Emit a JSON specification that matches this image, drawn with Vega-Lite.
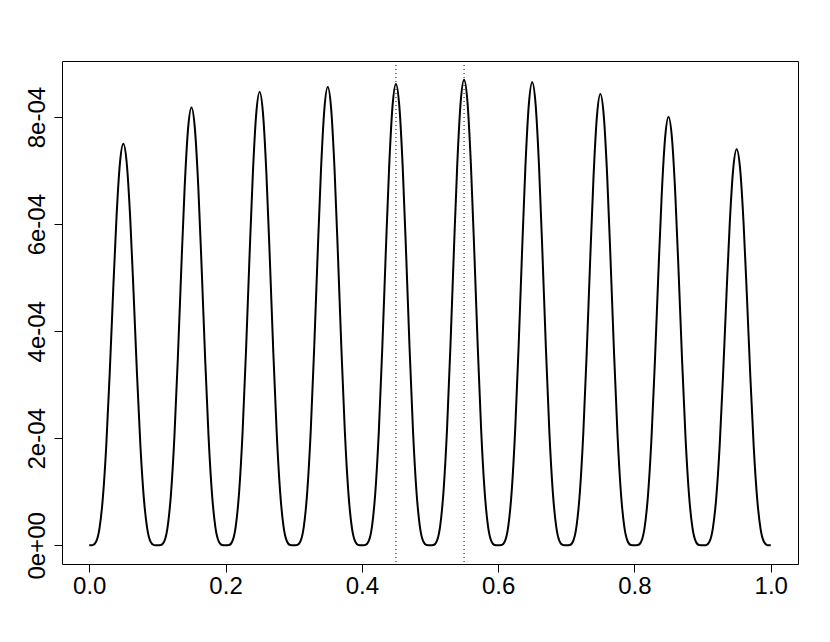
{
  "$schema": "https://vega.github.io/schema/vega-lite/v6.json",
  "width": 736,
  "height": 503,
  "autosize": {"type": "none"},
  "padding": {"left": 62, "top": 61, "right": 32, "bottom": 78},
  "background": "white",
  "config": {
    "view": {"stroke": "black", "strokeWidth": 1},
    "font": "Liberation Sans",
    "axis": {
      "grid": false,
      "domain": false,
      "tickColor": "black",
      "tickWidth": 1,
      "tickSize": 8,
      "labelColor": "black",
      "labelFont": "Liberation Sans",
      "labelFontSize": 24,
      "labelOverlap": false,
      "labelFlush": false,
      "labelBound": false,
      "title": null
    }
  },
  "layer": [
    {
      "data": {"values": [
        {"x":0.000,"y":0},{"x":0.005,"y":0.0045e-4},{"x":0.010,"y":0.0684e-4},{"x":0.015,"y":0.3186e-4},{"x":0.020,"y":0.8955e-4},{"x":0.025,"y":1.875e-4},{"x":0.030,"y":3.213e-4},{"x":0.035,"y":4.727e-4},{"x":0.040,"y":6.136e-4},{"x":0.045,"y":7.138e-4},{"x":0.050,"y":7.50e-4},{"x":0.055,"y":7.138e-4},{"x":0.060,"y":6.136e-4},{"x":0.065,"y":4.727e-4},{"x":0.070,"y":3.213e-4},{"x":0.075,"y":1.875e-4},{"x":0.080,"y":0.8955e-4},{"x":0.085,"y":0.3186e-4},{"x":0.090,"y":0.0684e-4},{"x":0.095,"y":0.0045e-4},
        {"x":0.100,"y":0},{"x":0.105,"y":0.0049e-4},{"x":0.110,"y":0.0746e-4},{"x":0.115,"y":0.3475e-4},{"x":0.120,"y":0.9767e-4},{"x":0.125,"y":2.045e-4},{"x":0.130,"y":3.504e-4},{"x":0.135,"y":5.156e-4},{"x":0.140,"y":6.692e-4},{"x":0.145,"y":7.785e-4},{"x":0.150,"y":8.18e-4},{"x":0.155,"y":7.785e-4},{"x":0.160,"y":6.692e-4},{"x":0.165,"y":5.156e-4},{"x":0.170,"y":3.504e-4},{"x":0.175,"y":2.045e-4},{"x":0.180,"y":0.9767e-4},{"x":0.185,"y":0.3475e-4},{"x":0.190,"y":0.0746e-4},{"x":0.195,"y":0.0049e-4},
        {"x":0.200,"y":0},{"x":0.205,"y":0.0051e-4},{"x":0.210,"y":0.0772e-4},{"x":0.215,"y":0.3598e-4},{"x":0.220,"y":1.0113e-4},{"x":0.225,"y":2.1175e-4},{"x":0.230,"y":3.629e-4},{"x":0.235,"y":5.339e-4},{"x":0.240,"y":6.929e-4},{"x":0.245,"y":8.061e-4},{"x":0.250,"y":8.47e-4},{"x":0.255,"y":8.061e-4},{"x":0.260,"y":6.929e-4},{"x":0.265,"y":5.339e-4},{"x":0.270,"y":3.629e-4},{"x":0.275,"y":2.1175e-4},{"x":0.280,"y":1.0113e-4},{"x":0.285,"y":0.3598e-4},{"x":0.290,"y":0.0772e-4},{"x":0.295,"y":0.0051e-4},
        {"x":0.300,"y":0},{"x":0.305,"y":0.0051e-4},{"x":0.310,"y":0.0781e-4},{"x":0.315,"y":0.3636e-4},{"x":0.320,"y":1.0221e-4},{"x":0.325,"y":2.14e-4},{"x":0.330,"y":3.667e-4},{"x":0.335,"y":5.395e-4},{"x":0.340,"y":7.003e-4},{"x":0.345,"y":8.147e-4},{"x":0.350,"y":8.56e-4},{"x":0.355,"y":8.147e-4},{"x":0.360,"y":7.003e-4},{"x":0.365,"y":5.395e-4},{"x":0.370,"y":3.667e-4},{"x":0.375,"y":2.14e-4},{"x":0.380,"y":1.0221e-4},{"x":0.385,"y":0.3636e-4},{"x":0.390,"y":0.0781e-4},{"x":0.395,"y":0.0051e-4},
        {"x":0.400,"y":0},{"x":0.405,"y":0.0052e-4},{"x":0.410,"y":0.0786e-4},{"x":0.415,"y":0.3662e-4},{"x":0.420,"y":1.0292e-4},{"x":0.425,"y":2.155e-4},{"x":0.430,"y":3.693e-4},{"x":0.435,"y":5.433e-4},{"x":0.440,"y":7.052e-4},{"x":0.445,"y":8.204e-4},{"x":0.450,"y":8.62e-4},{"x":0.455,"y":8.204e-4},{"x":0.460,"y":7.052e-4},{"x":0.465,"y":5.433e-4},{"x":0.470,"y":3.693e-4},{"x":0.475,"y":2.155e-4},{"x":0.480,"y":1.0292e-4},{"x":0.485,"y":0.3662e-4},{"x":0.490,"y":0.0786e-4},{"x":0.495,"y":0.0052e-4},
        {"x":0.500,"y":0},{"x":0.505,"y":0.0052e-4},{"x":0.510,"y":0.0793e-4},{"x":0.515,"y":0.3696e-4},{"x":0.520,"y":1.0388e-4},{"x":0.525,"y":2.175e-4},{"x":0.530,"y":3.727e-4},{"x":0.535,"y":5.484e-4},{"x":0.540,"y":7.117e-4},{"x":0.545,"y":8.280e-4},{"x":0.550,"y":8.70e-4},{"x":0.555,"y":8.280e-4},{"x":0.560,"y":7.117e-4},{"x":0.565,"y":5.484e-4},{"x":0.570,"y":3.727e-4},{"x":0.575,"y":2.175e-4},{"x":0.580,"y":1.0388e-4},{"x":0.585,"y":0.3696e-4},{"x":0.590,"y":0.0793e-4},{"x":0.595,"y":0.0052e-4},
        {"x":0.600,"y":0},{"x":0.605,"y":0.0052e-4},{"x":0.610,"y":0.0789e-4},{"x":0.615,"y":0.3675e-4},{"x":0.620,"y":1.0328e-4},{"x":0.625,"y":2.1625e-4},{"x":0.630,"y":3.706e-4},{"x":0.635,"y":5.452e-4},{"x":0.640,"y":7.077e-4},{"x":0.645,"y":8.232e-4},{"x":0.650,"y":8.65e-4},{"x":0.655,"y":8.232e-4},{"x":0.660,"y":7.077e-4},{"x":0.665,"y":5.452e-4},{"x":0.670,"y":3.706e-4},{"x":0.675,"y":2.1625e-4},{"x":0.680,"y":1.0328e-4},{"x":0.685,"y":0.3675e-4},{"x":0.690,"y":0.0789e-4},{"x":0.695,"y":0.0052e-4},
        {"x":0.700,"y":0},{"x":0.705,"y":0.0050e-4},{"x":0.710,"y":0.0769e-4},{"x":0.715,"y":0.3581e-4},{"x":0.720,"y":1.0065e-4},{"x":0.725,"y":2.1075e-4},{"x":0.730,"y":3.611e-4},{"x":0.735,"y":5.313e-4},{"x":0.740,"y":6.897e-4},{"x":0.745,"y":8.023e-4},{"x":0.750,"y":8.43e-4},{"x":0.755,"y":8.023e-4},{"x":0.760,"y":6.897e-4},{"x":0.765,"y":5.313e-4},{"x":0.770,"y":3.611e-4},{"x":0.775,"y":2.1075e-4},{"x":0.780,"y":1.0065e-4},{"x":0.785,"y":0.3581e-4},{"x":0.790,"y":0.0769e-4},{"x":0.795,"y":0.0050e-4},
        {"x":0.800,"y":0},{"x":0.805,"y":0.0048e-4},{"x":0.810,"y":0.0730e-4},{"x":0.815,"y":0.3398e-4},{"x":0.820,"y":0.9552e-4},{"x":0.825,"y":2.00e-4},{"x":0.830,"y":3.427e-4},{"x":0.835,"y":5.042e-4},{"x":0.840,"y":6.545e-4},{"x":0.845,"y":7.614e-4},{"x":0.850,"y":8.00e-4},{"x":0.855,"y":7.614e-4},{"x":0.860,"y":6.545e-4},{"x":0.865,"y":5.042e-4},{"x":0.870,"y":3.427e-4},{"x":0.875,"y":2.00e-4},{"x":0.880,"y":0.9552e-4},{"x":0.885,"y":0.3398e-4},{"x":0.890,"y":0.0730e-4},{"x":0.895,"y":0.0048e-4},
        {"x":0.900,"y":0},{"x":0.905,"y":0.0044e-4},{"x":0.910,"y":0.0675e-4},{"x":0.915,"y":0.3144e-4},{"x":0.920,"y":0.8836e-4},{"x":0.925,"y":1.85e-4},{"x":0.930,"y":3.170e-4},{"x":0.935,"y":4.664e-4},{"x":0.940,"y":6.054e-4},{"x":0.945,"y":7.043e-4},{"x":0.950,"y":7.40e-4},{"x":0.955,"y":7.043e-4},{"x":0.960,"y":6.054e-4},{"x":0.965,"y":4.664e-4},{"x":0.970,"y":3.170e-4},{"x":0.975,"y":1.85e-4},{"x":0.980,"y":0.8836e-4},{"x":0.985,"y":0.3144e-4},{"x":0.990,"y":0.0675e-4},{"x":0.995,"y":0.0044e-4},
        {"x":1.000,"y":0}
      ]},
      "mark": {"type": "line", "color": "black", "strokeWidth": 2, "interpolate": "monotone"},
      "encoding": {
        "x": {
          "field": "x", "type": "quantitative",
          "scale": {"domain": [-0.04, 1.04], "nice": false, "zero": false},
          "axis": {"values": [0, 0.2, 0.4, 0.6, 0.8, 1.0], "format": ".1f", "labelPadding": 21, "labelBaseline": "alphabetic", "labelAlign": "center"}
        },
        "y": {
          "field": "y", "type": "quantitative",
          "scale": {"domain": [-0.348e-4, 9.048e-4], "nice": false, "zero": false},
          "axis": {
            "values": [0, 0.0002, 0.0004, 0.0006, 0.0008],
            "labelExpr": "datum.value == 0 ? '0e+00' : format(datum.value * 10000, 'd') + 'e-04'",
            "labelAngle": -90,
            "labelAlign": "center",
            "labelBaseline": "alphabetic",
            "labelPadding": 10
          }
        }
      }
    },
    {
      "data": {"values": [{"x": 0.45}, {"x": 0.55}]},
      "mark": {"type": "rule", "color": "black", "strokeWidth": 1, "strokeDash": [1, 3]},
      "encoding": {
        "x": {"field": "x", "type": "quantitative"}
      }
    }
  ]
}
